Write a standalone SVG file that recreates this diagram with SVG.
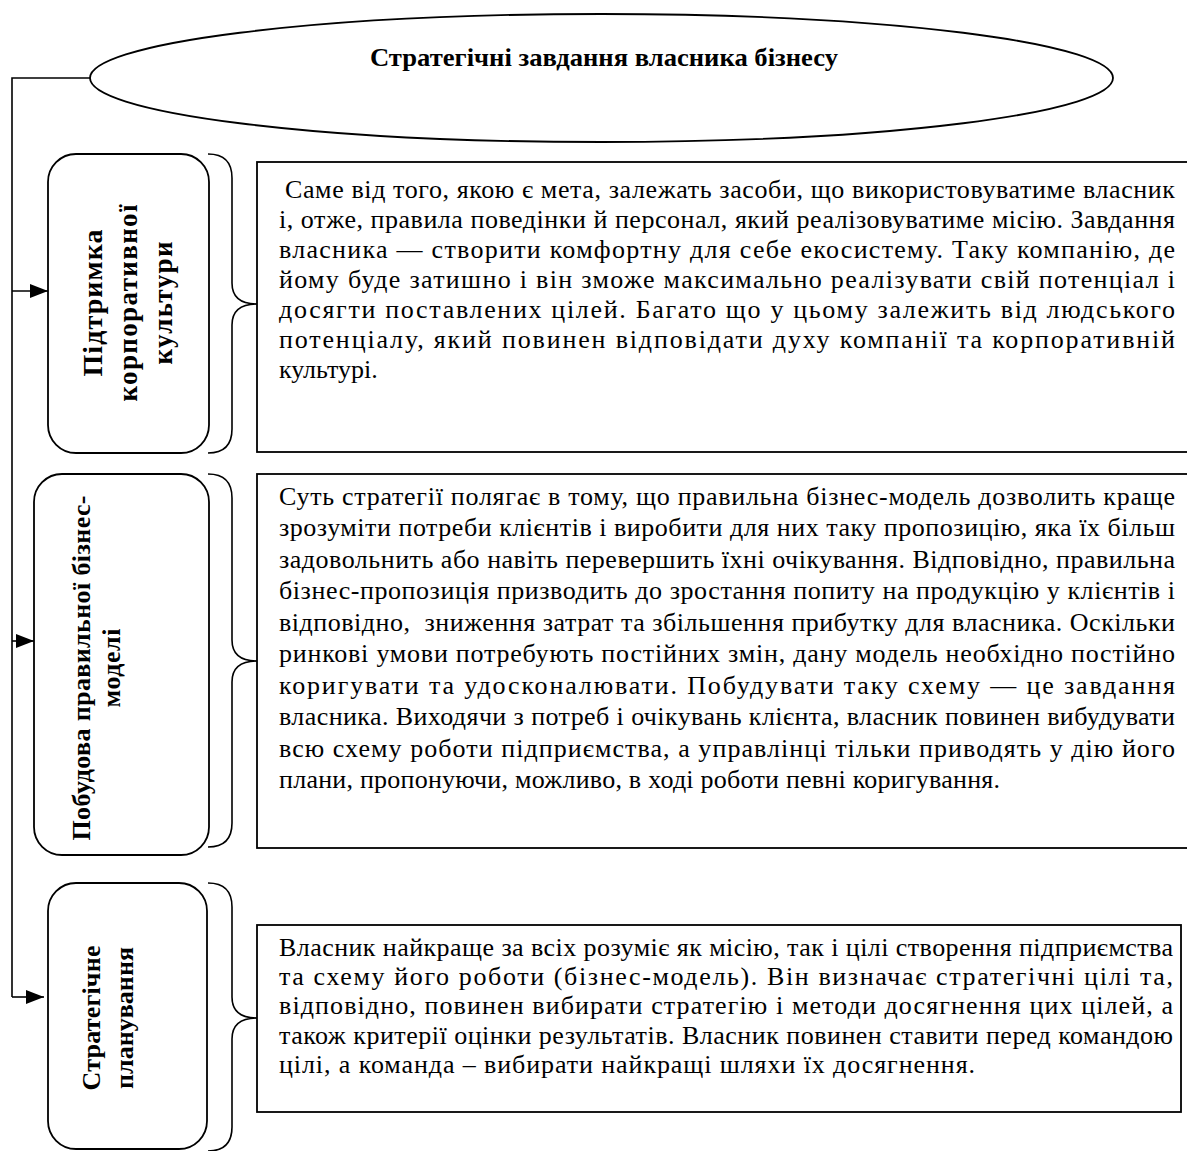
<svg xmlns="http://www.w3.org/2000/svg" width="1187" height="1151" viewBox="0 0 1187 1151">
<style>
.ln{fill:none;stroke:#000;stroke-width:1.6}
.box{fill:#fff;stroke:#000;stroke-width:1.8}
.body{font-family:"Liberation Serif","Times New Roman",serif;font-size:26px;fill:#000}
.lab{font-family:"Liberation Serif","Times New Roman",serif;font-weight:bold;fill:#000;text-anchor:middle}
</style>
<defs>
<marker id="ar" markerUnits="userSpaceOnUse" markerWidth="18" markerHeight="14" refX="18" refY="7" orient="auto">
<path d="M0,0 L18,7 L0,14 z" fill="#000"/>
</marker>
</defs>
<rect width="1187" height="1151" fill="#fff"/>
<g id="connectors">
<path class="ln" d="M90,78 H12 V997"/>
<path class="ln" d="M12,291 H48" marker-end="url(#ar)"/>
<path class="ln" d="M12,641 H34" marker-end="url(#ar)"/>
<path class="ln" d="M12,997 H44" marker-end="url(#ar)"/>
<path class="ln" d="M208,154 Q232,154 232,178 L232,283 Q232,304 257,304 Q232,304 232,325 L232,429 Q232,453 208,453"/>
<path class="ln" d="M208,474 Q232,474 232,498 L232,640 Q232,661 257,661 Q232,661 232,682 L232,823 Q232,847 208,847"/>
<path class="ln" d="M208,883 Q232,883 232,907 L232,997 Q232,1018 257,1018 Q232,1018 232,1039 L232,1127 Q232,1151 208,1151"/>
</g>
<g id="title">
<ellipse class="box" cx="601.5" cy="78" rx="511.5" ry="64"/>
<text x="604" y="66" class="lab" font-size="25" textLength="468" lengthAdjust="spacingAndGlyphs">Стратегічні завдання власника бізнесу</text>
</g>
<g id="node1">
<rect class="box" x="48" y="154" width="161" height="299" rx="28"/>
<text class="lab" font-size="28" transform="translate(102,303) rotate(-90)" textLength="147">Підтримка</text>
<text class="lab" font-size="27" transform="translate(137,303) rotate(-90)" textLength="197">корпоративної</text>
<text class="lab" font-size="27" transform="translate(172,303) rotate(-90)" textLength="123">культури</text>
</g>
<g id="node2">
<rect class="box" x="34" y="474" width="175" height="381" rx="28"/>
<text class="lab" font-size="26" transform="translate(90,668) rotate(-90)" textLength="345">Побудова правильної бізнес-</text>
<text class="lab" font-size="26" transform="translate(120,668) rotate(-90)" textLength="79">моделі</text>
</g>
<g id="node3">
<rect class="box" x="48" y="883" width="159" height="266" rx="28"/>
<text class="lab" font-size="26" transform="translate(100,1018) rotate(-90)" textLength="145">Стратегічне</text>
<text class="lab" font-size="26" transform="translate(133,1018) rotate(-90)" textLength="142">планування</text>
</g>
<g id="text1">
<rect class="box" x="257" y="162" width="940" height="290"/>
<text class="body">
<tspan x="285" y="198" textLength="890" lengthAdjust="spacing">Саме від того, якою є мета, залежать засоби, що використовуватиме власник</tspan>
<tspan x="279" y="228" textLength="896" lengthAdjust="spacing">і, отже, правила поведінки й персонал, який реалізовуватиме місію. Завдання</tspan>
<tspan x="279" y="258" textLength="896" lengthAdjust="spacing">власника — створити комфортну для себе екосистему. Таку компанію, де</tspan>
<tspan x="279" y="288" textLength="896" lengthAdjust="spacing">йому буде затишно і він зможе максимально реалізувати свій потенціал і</tspan>
<tspan x="279" y="318" textLength="896" lengthAdjust="spacing">досягти поставлених цілей. Багато що у цьому залежить від людського</tspan>
<tspan x="279" y="348" textLength="896" lengthAdjust="spacing">потенціалу, який повинен відповідати духу компанії та корпоративній</tspan>
<tspan x="279" y="378">культурі.</tspan>
</text>
</g>
<g id="text2">
<rect class="box" x="257" y="474" width="940" height="374"/>
<text class="body">
<tspan x="279" y="505" textLength="896" lengthAdjust="spacing">Суть стратегії полягає в тому, що правильна бізнес-модель дозволить краще</tspan>
<tspan x="279" y="536" textLength="896" lengthAdjust="spacing">зрозуміти потреби клієнтів і виробити для них таку пропозицію, яка їх більш</tspan>
<tspan x="279" y="568" textLength="896" lengthAdjust="spacing">задовольнить або навіть перевершить їхні очікування. Відповідно, правильна</tspan>
<tspan x="279" y="599" textLength="896" lengthAdjust="spacing">бізнес-пропозиція призводить до зростання попиту на продукцію у клієнтів і</tspan>
<tspan x="279" y="631" textLength="896" lengthAdjust="spacing" xml:space="preserve">відповідно,  зниження затрат та збільшення прибутку для власника. Оскільки</tspan>
<tspan x="279" y="662" textLength="896" lengthAdjust="spacing">ринкові умови потребують постійних змін, дану модель необхідно постійно</tspan>
<tspan x="279" y="694" textLength="896" lengthAdjust="spacing">коригувати та удосконалювати. Побудувати таку схему — це завдання</tspan>
<tspan x="279" y="725" textLength="896" lengthAdjust="spacing">власника. Виходячи з потреб і очікувань клієнта, власник повинен вибудувати</tspan>
<tspan x="279" y="757" textLength="896" lengthAdjust="spacing">всю схему роботи підприємства, а управлінці тільки приводять у дію його</tspan>
<tspan x="279" y="788" textLength="721" lengthAdjust="spacing">плани, пропонуючи, можливо, в ході роботи певні коригування.</tspan>
</text>
</g>
<g id="text3">
<rect class="box" x="257" y="925" width="924" height="187"/>
<text class="body">
<tspan x="279" y="956" textLength="894" lengthAdjust="spacing">Власник найкраще за всіх розуміє як місію, так і цілі створення підприємства</tspan>
<tspan x="279" y="985" textLength="894" lengthAdjust="spacing">та схему його роботи (бізнес-модель). Він визначає стратегічні цілі та,</tspan>
<tspan x="279" y="1014" textLength="894" lengthAdjust="spacing">відповідно, повинен вибирати стратегію і методи досягнення цих цілей, а</tspan>
<tspan x="279" y="1044" textLength="894" lengthAdjust="spacing">також критерії оцінки результатів. Власник повинен ставити перед командою</tspan>
<tspan x="279" y="1073" textLength="696" lengthAdjust="spacing">цілі, а команда – вибирати найкращі шляхи їх досягнення.</tspan>
</text>
</g>
</svg>
